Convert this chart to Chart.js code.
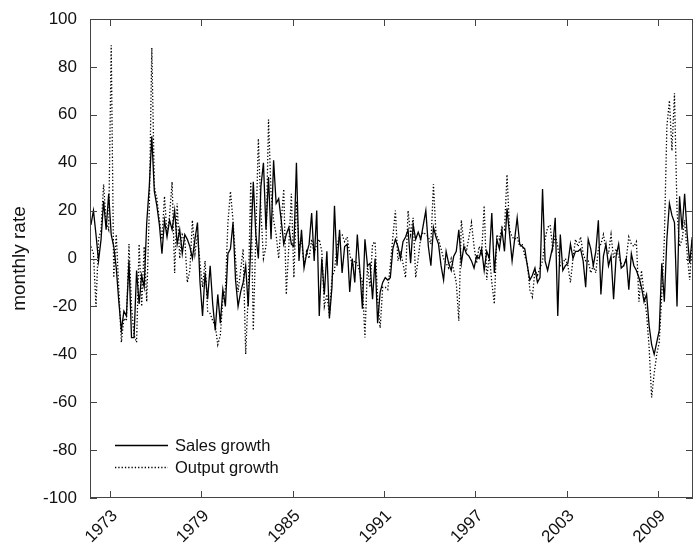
<!DOCTYPE html>
<html lang="en">
<head>
<meta charset="UTF-8">
<title>Sales and output growth</title>
<script src="https://cdn.jsdelivr.net/npm/chart.js"></script>
<style>
  html, body { margin: 0; padding: 0; background: #fff; }
</style>
</head>
<body>
<canvas id="growthChart" width="696" height="545"></canvas>
<script>
// one reading every two months, starting October 1971
const startYear = 1971.75;
const stepYears = 1 / 6;

const salesGrowth = [
  14, 20, 10, -1, 8, 24, 12, 27, 10, 5, -4, -18, -30, -22, -24, -1, -33, -33, -5, -19,
  -7, -12, 15, 30, 51, 28, 22, 14, 2, 16, 9, 16, 12, 20, 6, 12, 2, 10, 8, 5,
  0, 8, 15, -10, -24, -6, -17, -3, -19, -30, -15, -27, -13, -20, 2, 4, 15, -9, -20, -14,
  -10, -3, -20, 5, 32, 10, 0, 30, 40, 12, 34, 8, 41, 23, 25, 16, 6, 10, 13, 6,
  5, 40, -1, 12, -4, 2, 6, 19, -1, 20, -24, 0, -15, 3, -25, -12, 22, -3, 12, -6,
  5, 6, -14, 0, -10, 10, -5, -21, 8, -3, -2, -17, 0, -27, -14, -10, -8, -9, -8, 4,
  8, 5, 0, 7, 9, 12, -2, 14, 8, 11, 8, 14, 20, 5, -3, 13, 9, 6, -3, -9,
  3, -2, -5, 1, 3, 12, -2, 5, 2, 1, -1, -4, 1, 0, 4, -5, 3, 0, 19, -6,
  8, 4, 12, 3, 21, 10, -1, 8, 17, 6, 5, 4, -3, -9, -7, -4, -10, -8, 29, -1,
  -5, 0, 5, 17, -24, 10, -5, -3, -2, 6, 0, 3, 3, 4, -1, -12, 8, 4, -3, 3,
  16, -15, 1, 6, -3, 1, -17, 1, 6, -4, -3, 0, -13, 2, -3, -5, -8, -12, -18, -15,
  -28, -36, -40, -35, -30, -2, -18, 8, 23, 18, 15, -20, 26, 12, 27, 10, -2, 9
];

const outputGrowth = [
  5, 2, -20, 8, 12, 31, 15, 12, 89, -8, 10, -13, -35, -25, -26, 6, -20, -32, -35, 6,
  -20, 5, -18, 20, 88, 30, 25, 16, 8, 26, 10, 18, 32, -6, 23, 0, 10, 8, -10, -5,
  16, 2, 10, -2, -12, -1, -22, -23, -26, -28, -36, -32, -17, -13, 15, 28, 16, 0, -14, -5,
  4, -40, -15, 32, -30, 10, 50, 20, 0, 5, 58, 27, 16, 10, 0, 15, 29, -15, 5, 27,
  -8, 24, 5, 8, -3, 3, 0, 8, 2, 6, 8, 3, -20, -15, -24, -8, -5, 5, 10, 10,
  7, 9, 2, -3, -1, -2, -6, -10, -33, -3, -12, 6, 7, -17, -29, -12, -12, -13, -3, 9,
  20, -1, 3, -2, -8, 20, 10, 17, -8, 0, 9, 11, 10, 9, 6, 31, 10, 8, 4, 0,
  -2, -4, 0, -5, -10, -26, 16, 6, 3, 9, 15, 5, -2, 5, 2, 22, -9, 2, -10, -19,
  10, 8, 13, 12, 35, 12, 9, 8, 9, 5, 6, 1, -2, -13, -16, -5, -7, -4, -1, 8,
  13, 14, 4, 10, 5, -3, -2, 0, -3, -10, 0, 8, 5, 9, 2, -1, -1, -6, -3, -6,
  4, 6, 10, 4, 2, 10, 0, 4, 1, -2, -3, 0, 9, 6, 5, 7, -18, -5, -15, -23,
  -37, -58, -48, -40, -35, -15, 8, 55, 66, 45, 69, 20, 5, 8, 16, 2, -9, 8
];

const yearTicks = [1973, 1979, 1985, 1991, 1997, 2003, 2009];
const rateTicks = [-100, -80, -60, -40, -20, 0, 20, 40, 60, 80, 100];

const seriesNames = ['Sales growth', 'Output growth'];

const toPoints = values => values.map((v, i) => ({ x: startYear + i * stepYears, y: v }));

const frameColor = '#444';
const fontFamily = '"Liberation Sans", Arial, Helvetica, sans-serif';

// box round the plot with short inward ticks on all four sides
const boxTicks = {
  id: 'boxTicks',
  afterDraw(chart) {
    const { ctx, chartArea: a, scales } = chart;
    const len = 7;
    ctx.save();
    ctx.strokeStyle = frameColor;
    ctx.lineWidth = 1;
    ctx.strokeRect(a.left + 0.5, a.top + 0.5, a.right - a.left - 1, a.bottom - a.top - 1);
    ctx.beginPath();
    yearTicks.forEach(v => {
      const px = Math.round(scales.x.getPixelForValue(v)) + 0.5;
      ctx.moveTo(px, a.bottom); ctx.lineTo(px, a.bottom - len);
      ctx.moveTo(px, a.top); ctx.lineTo(px, a.top + len);
    });
    rateTicks.forEach(v => {
      const py = Math.round(scales.y.getPixelForValue(v)) + 0.5;
      ctx.moveTo(a.left, py); ctx.lineTo(a.left + len, py);
      ctx.moveTo(a.right, py); ctx.lineTo(a.right - len, py);
    });
    ctx.stroke();
    ctx.restore();
  }
};

// legend inside the lower left corner of the plot
const innerLegend = {
  id: 'innerLegend',
  afterDraw(chart) {
    const { ctx, chartArea: a } = chart;
    const x0 = a.left + 25, x1 = a.left + 78, tx = a.left + 85;
    const rows = [a.bottom - 53, a.bottom - 31];
    ctx.save();
    ctx.font = '16.5px ' + fontFamily;
    ctx.textBaseline = 'middle';
    ctx.fillStyle = '#111';
    chart.data.datasets.forEach((ds, i) => {
      ctx.beginPath();
      ctx.strokeStyle = ds.borderColor;
      ctx.lineWidth = ds.borderWidth;
      ctx.setLineDash(ds.borderDash || []);
      ctx.moveTo(x0, rows[i] + 0.5);
      ctx.lineTo(x1, rows[i] + 0.5);
      ctx.stroke();
      ctx.fillText(ds.label, tx, rows[i] + 1);
    });
    ctx.restore();
  }
};

const ctx = document.getElementById('growthChart').getContext('2d');
const growthChart = new Chart(ctx, {
  type: 'line',
  data: {
    datasets: [
      {
        label: seriesNames[0],
        data: toPoints(salesGrowth),
        borderColor: '#000',
        borderWidth: 1.3,
        pointRadius: 0,
        tension: 0,
        fill: false
      },
      {
        label: seriesNames[1],
        data: toPoints(outputGrowth),
        borderColor: '#000',
        borderWidth: 1.3,
        borderDash: [1.3, 2],
        pointRadius: 0,
        tension: 0,
        fill: false
      }
    ]
  },
  options: {
    responsive: false,
    animation: false,
    layout: { padding: { top: 19, right: 3, left: 0, bottom: 0 } },
    plugins: {
      legend: { display: false },
      tooltip: { enabled: false }
    },
    scales: {
      x: {
        type: 'linear',
        min: 1971.69,
        max: 2011.3,
        afterBuildTicks: scale => { scale.ticks = yearTicks.map(v => ({ value: v })); },
        afterFit: scale => { scale.height = 47; },
        grid: { display: false },
        border: { display: false },
        ticks: {
          autoSkip: false,
          minRotation: 45,
          maxRotation: 45,
          padding: 0,
          labelOffset: 5,
          color: '#111',
          font: { family: fontFamily, size: 17 },
          callback: v => String(v)
        }
      },
      y: {
        min: -100,
        max: 100,
        afterBuildTicks: scale => { scale.ticks = rateTicks.map(v => ({ value: v })); },
        afterFit: scale => { scale.width = 90; },
        grid: { display: false },
        border: { display: false },
        title: {
          display: true,
          text: 'monthly rate',
          color: '#111',
          padding: { top: 8, bottom: 0 },
          font: { family: fontFamily, size: 19 }
        },
        ticks: {
          padding: 5,
          color: '#111',
          font: { family: fontFamily, size: 17 }
        }
      }
    }
  },
  plugins: [boxTicks, innerLegend]
});
</script>
</body>
</html>
